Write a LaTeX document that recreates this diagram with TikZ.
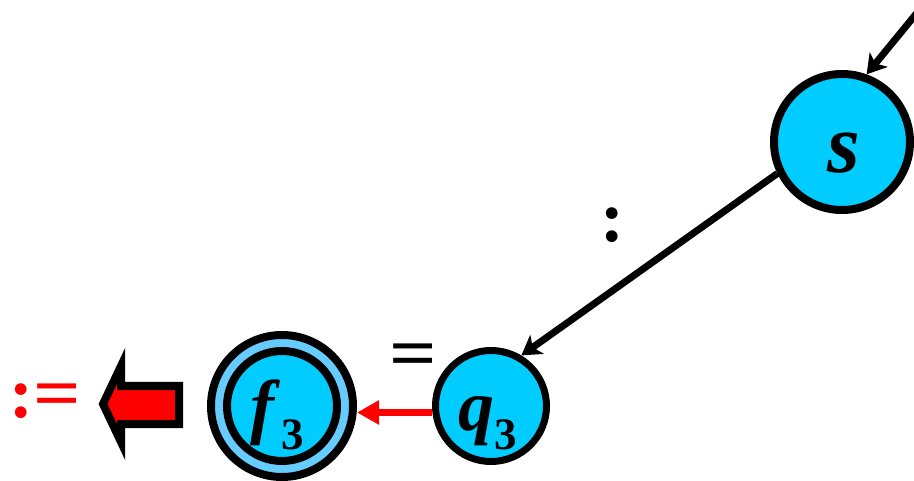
\documentclass[tikz,border=0pt]{standalone}
\usepackage{fontspec}
\setmainfont{Liberation Serif}
\usetikzlibrary{arrows.meta}
\definecolor{nodecyan}{HTML}{00CCFF}
\definecolor{ringblue}{HTML}{66CCFF}
\definecolor{pured}{HTML}{FF0000}
\tikzset{
  state/.style={circle,draw=black,line width=7pt,fill=nodecyan,inner sep=0pt,minimum size=111pt},
  bigstate/.style={state,line width=8pt,minimum size=136pt},
  ringstate/.style={state,line width=8pt,fill=ringblue,minimum size=142pt},
  conn/.style={draw=black,line width=7pt,-{Stealth[length=19pt,width=23pt,inset=5pt]}},
  redconn/.style={draw=pured,line width=6.5pt,-{Triangle[length=22pt,width=23pt]}},
  lbl/.style={inner sep=0pt,font=\fontsize{72}{72}\selectfont\bfseries\itshape},
  sym/.style={inner sep=0pt,font=\fontsize{72}{72}\selectfont\bfseries},
  bigarrow/.style={draw=black,line width=8pt,fill=pured,line join=miter}
}
\newcommand{\wideeq}{\scalebox{1.16}[1]{=}}
\begin{document}
\begin{tikzpicture}[x=1pt,y=-1pt]
\useasboundingbox (0,0) rectangle (914,481);
% states
\node[bigstate] (s) at (842,142) {};
\node[state] (q3) at (491,406) {};
\node[ringstate] (f3o) at (282,406) {};
\node[state,line width=8pt,minimum size=110pt] (f3) at (282,406) {};
% labels
\node[lbl,anchor=base,font=\fontsize{84}{84}\selectfont\bfseries\itshape] (slbl) at (844,173) {s};
\node[lbl,anchor=base west] (qlbl) at (458,431) {q\raisebox{-19pt}{\fontsize{45}{45}\selectfont\upshape 3}};
\node[lbl,anchor=base west] (flbl) at (250,431) {f\kern7pt\raisebox{-19pt}{\fontsize{45}{45}\selectfont\upshape 3}};
% connectors
\coordinate (in) at (925,3);
\draw[conn] (in) -- (s.70);
\draw[conn] (s.206) -- (q3.59);
\draw[redconn] ([yshift=-6.5pt]q3.west) -- ([yshift=-6.5pt]f3o.east);
% texts
\node[sym] (eq) at (413,361) {\wideeq};
\node[sym] (dots) at (612,225) {:};
\node[sym,text=pured] (assign) at (45,401) {:\wideeq};
% big arrow
\draw[bigarrow] (103,404) -- (121,366) -- (121,386) -- (179,386) -- (179,424) -- (121,424) -- (121,442) -- cycle;
\end{tikzpicture}
\end{document}
